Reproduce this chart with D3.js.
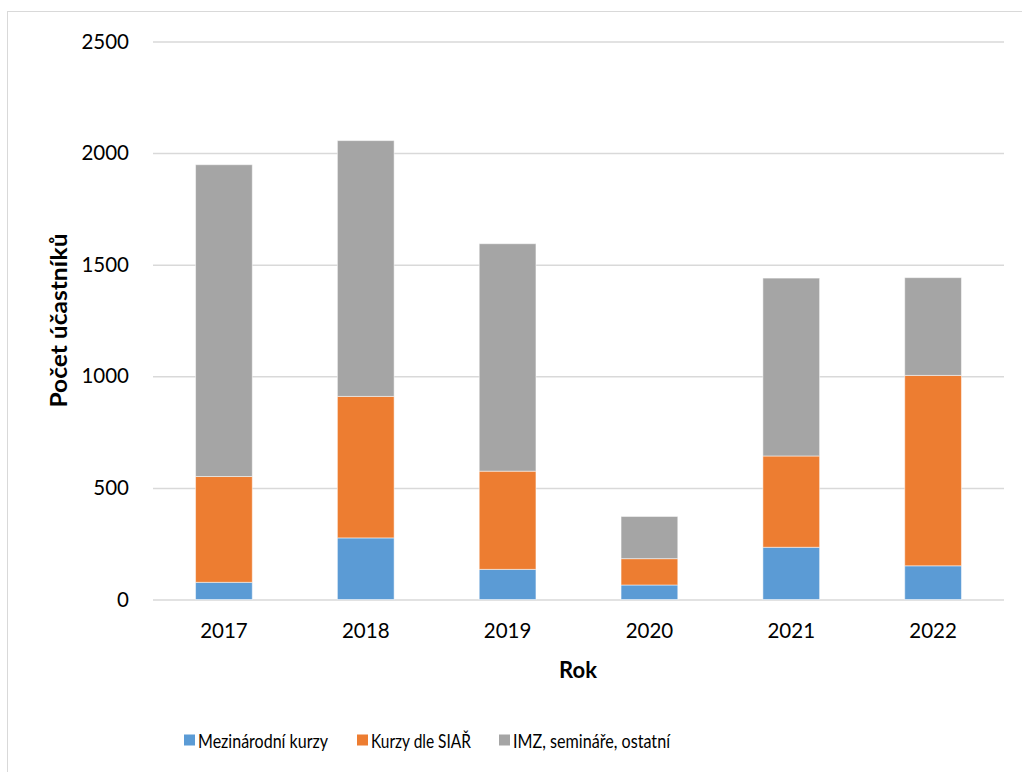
<!DOCTYPE html>
<html>
<head>
<meta charset="utf-8">
<script src="https://cdn.jsdelivr.net/npm/d3@7"></script>
<style>
  body { margin: 0; background: #fff; }
  svg { display: block; font-family: Lato, "Open Sans", sans-serif; }
</style>
</head>
<body>
<div id="chart"></div>
<script>
const years = ["2017", "2018", "2019", "2020", "2021", "2022"];
const mezinarodni = [77, 276, 135, 65, 234, 151];
const kurzySiar = [474, 634, 440, 118, 409, 853];
const imzOstatni = [1397, 1146, 1019, 189, 797, 438];
const seriesNames = ["Mezinárodní kurzy", "Kurzy dle SIAŘ", "IMZ, semináře, ostatní"];
const seriesColors = ["#5B9BD5", "#ED7D31", "#A5A5A5"];
const yTicks = [0, 500, 1000, 1500, 2000, 2500];

const w = 1022, h = 772;
const plotLeft = 153, plotRight = 1004, plotTop = 41.5, plotBottom = 599.5;

let svg = d3.select("#chart").append("svg")
  .attr("width", w)
  .attr("height", h);

// chart frame (only top and left edges are visible)
svg.append("rect")
  .attr("x", 7.5)
  .attr("y", 11.5)
  .attr("width", 1040)
  .attr("height", 800)
  .attr("fill", "none")
  .attr("stroke", "#d9d9d9")
  .attr("stroke-width", 1);

let rows = years.map(function(y, i) {
  return { year: y, a: mezinarodni[i], b: kurzySiar[i], c: imzOstatni[i] };
});
let stacked = d3.stack().keys(["a", "b", "c"])(rows);

let xScale = d3.scaleBand()
  .domain(years)
  .range([plotLeft, plotRight])
  .paddingInner(0.6)
  .paddingOuter(0.3);

let yScale = d3.scaleLinear()
  .domain([0, 2500])
  .range([plotBottom, plotTop]);

// gridlines + y labels
let yAxis = d3.axisLeft(yScale)
  .tickValues(yTicks)
  .tickSize(-(plotRight - plotLeft))
  .tickPadding(24)
  .tickFormat(d3.format("d"));

let yAxisGroup = svg.append("g")
  .attr("transform", "translate(" + plotLeft + ",0)")
  .call(yAxis);
yAxisGroup.select(".domain").remove();
yAxisGroup.selectAll(".tick line")
  .attr("stroke", "#d9d9d9")
  .attr("stroke-width", 1.5);
yAxisGroup.selectAll(".tick text")
  .attr("fill", "#000")
  .attr("font-size", 20.5)
  .attr("font-family", "Lato, sans-serif");

// bars
svg.append("g")
  .selectAll("g")
  .data(stacked)
  .enter()
  .append("g")
  .attr("fill", function(d, i) { return seriesColors[i]; })
  .selectAll("rect")
  .data(function(d) { return d; })
  .enter()
  .append("rect")
  .attr("x", function(d) { return xScale(d.data.year); })
  .attr("y", function(d) { return yScale(d[1]); })
  .attr("width", xScale.bandwidth())
  .attr("height", function(d) { return yScale(d[0]) - yScale(d[1]); })
  .attr("stroke", "#fff")
  .attr("stroke-opacity", 0.5)
  .attr("stroke-width", 1);

// x labels
let xAxis = d3.axisBottom(xScale).tickSize(0).tickPadding(24);
let xAxisGroup = svg.append("g")
  .attr("transform", "translate(0," + plotBottom + ")")
  .call(xAxis);
xAxisGroup.select(".domain").remove();
xAxisGroup.selectAll(".tick text")
  .attr("fill", "#000")
  .attr("font-size", 20.5)
  .attr("font-family", "Lato, sans-serif");

// axis titles
svg.append("text")
  .text("Rok")
  .attr("x", (plotLeft + plotRight) / 2 - 0.5)
  .attr("y", 678)
  .attr("text-anchor", "middle")
  .attr("font-size", 22)
  .attr("font-weight", "bold")
  .attr("fill", "#000");

svg.append("text")
  .text("Počet účastníků")
  .attr("transform", "translate(67," + ((plotTop + plotBottom) / 2) + ") rotate(-90)")
  .attr("text-anchor", "middle")
  .attr("font-size", 22)
  .attr("font-weight", "bold")
  .attr("textLength", 174)
  .attr("lengthAdjust", "spacingAndGlyphs")
  .attr("fill", "#000");

// legend
const legendX = [184, 357, 499];
const legendW = [130, 100, 157];
let legend = svg.append("g")
  .selectAll("g")
  .data(seriesNames)
  .enter()
  .append("g")
  .attr("transform", function(d, i) { return "translate(" + legendX[i] + ",733)"; });

legend.append("rect")
  .attr("width", 11)
  .attr("height", 11)
  .attr("y", 1.5)
  .attr("fill", function(d, i) { return seriesColors[i]; });

legend.append("text")
  .text(function(d) { return d; })
  .attr("x", 14)
  .attr("y", 14.5)
  .attr("font-size", 20)
  .attr("textLength", function(d, i) { return legendW[i]; })
  .attr("lengthAdjust", "spacingAndGlyphs")
  .attr("fill", "#000");
</script>
</body>
</html>
